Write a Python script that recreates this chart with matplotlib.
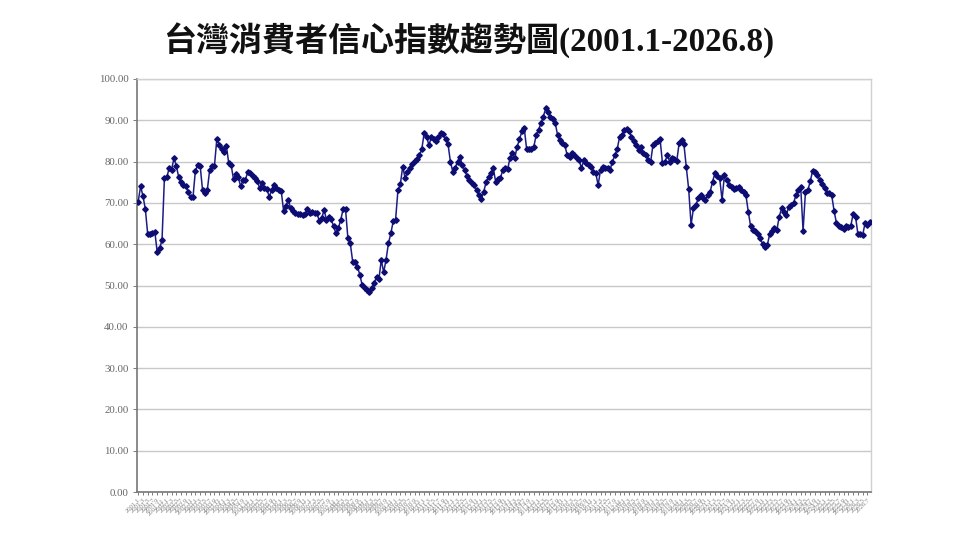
import matplotlib
matplotlib.use("Agg")
import matplotlib.pyplot as plt
import numpy as np

# Monthly Taiwan consumer confidence index, 2001.1 - 2026.8
cci_2001_2004 = [70.3, 74.0, 71.7, 68.5, 62.4, 62.4, 62.6, 62.9, 58.0, 59.0, 61.0, 76.0,
                 76.2, 78.4, 78.0, 80.8, 79.0, 76.2, 75.0, 74.4, 74.0, 72.7, 71.4, 71.4,
                 77.8, 79.2, 79.0, 73.1, 72.3, 73.1, 78.0, 79.0, 79.0, 85.5, 84.0, 83.0,
                 82.4, 83.8, 79.6, 79.2, 75.7, 77.0, 76.2, 74.0, 75.6, 75.6, 77.6, 77.2]
cci_2005_2008 = [76.4, 76.0, 75.2, 73.5, 74.9, 73.5, 73.3, 71.5, 73.1, 74.4, 73.6, 73.1,
                 73.0, 68.1, 69.3, 70.7, 68.7, 68.1, 67.6, 67.3, 67.2, 67.1, 67.2, 68.5,
                 67.6, 67.9, 67.5, 67.5, 65.6, 66.3, 68.3, 65.9, 66.7, 66.0, 64.3, 62.6,
                 63.9, 65.9, 68.5, 68.5, 61.4, 60.2, 55.8, 55.8, 54.6, 52.6, 50.1, 49.3]
cci_2009_2012 = [48.8, 48.5, 49.3, 50.5, 52.1, 51.5, 56.2, 53.2, 56.2, 60.2, 62.6, 65.5,
                 65.9, 73.1, 74.5, 78.8, 76.0, 77.6, 78.4, 79.4, 80.2, 80.6, 81.5, 83.0,
                 86.9, 86.0, 84.0, 85.9, 85.4, 85.1, 86.0, 86.9, 86.7, 85.4, 84.3, 80.0,
                 77.6, 78.4, 80.0, 81.2, 79.2, 78.0, 76.5, 75.6, 74.7, 74.3, 73.1, 71.9]
cci_2013_2016 = [70.9, 72.7, 75.1, 76.2, 77.3, 78.4, 75.1, 75.7, 76.0, 78.0, 78.4, 78.1,
                 80.8, 82.0, 80.8, 83.6, 85.4, 87.3, 88.1, 83.0, 83.0, 83.0, 83.6, 86.4,
                 87.7, 89.3, 90.9, 92.9, 91.9, 90.9, 90.2, 89.3, 86.4, 85.2, 84.6, 84.0,
                 81.6, 81.2, 82.0, 81.6, 80.8, 80.4, 78.4, 80.4, 79.7, 79.2, 78.8, 77.6]
cci_2017_2020 = [77.2, 74.3, 78.0, 78.6, 78.4, 78.4, 78.0, 80.0, 81.5, 83.0, 86.0, 86.4,
                 87.7, 87.8, 87.3, 86.0, 85.1, 84.0, 82.7, 83.6, 82.0, 81.6, 80.4, 79.8,
                 84.0, 84.6, 85.1, 85.4, 79.6, 79.8, 81.6, 80.0, 80.8, 80.6, 80.2, 84.5,
                 85.2, 84.2, 78.6, 73.3, 64.7, 68.7, 69.5, 71.1, 71.9, 71.1, 70.7, 71.9]
cci_2021_2024 = [72.7, 75.1, 77.2, 76.4, 76.0, 70.7, 76.8, 75.6, 74.3, 73.8, 73.3, 73.5,
                 73.8, 73.1, 72.7, 71.9, 67.9, 64.3, 63.5, 63.1, 62.5, 61.4, 60.1, 59.3,
                 59.8, 62.5, 63.1, 63.9, 63.5, 66.7, 68.7, 67.9, 67.1, 69.1, 69.5, 69.9,
                 71.9, 73.1, 73.8, 63.3, 72.7, 73.1, 75.2, 77.8, 77.6, 76.8, 75.6, 74.6]
cci_2025_2026 = [73.5, 72.5, 72.3, 71.9, 68.1, 65.1, 64.4, 64.1, 63.6, 64.3, 64.1, 64.4,
                 67.3, 66.7, 62.5, 62.5, 62.2, 65.1, 64.7, 65.3]

values = (cci_2001_2004 + cci_2005_2008 + cci_2009_2012 + cci_2013_2016 +
          cci_2017_2020 + cci_2021_2024 + cci_2025_2026)

start_year, start_month = 2001, 1
labels = []
y, m = start_year, start_month
for _ in range(len(values)):
    labels.append(f"{y}.{m}")
    m += 1
    if m > 12:
        m = 1
        y += 1

yticks = [0, 10, 20, 30, 40, 50, 60, 70, 80, 90, 100]
title = "台灣消費者信心指數趨勢圖(2001.1-2026.8)"

fig = plt.figure(figsize=(9.6, 5.39), dpi=100)
ax = fig.add_axes([137 / 960, 1 - 492 / 539, (871 - 137) / 960, (492 - 79) / 539])

x = np.arange(len(values))
ax.plot(x, values, color="#1c1c86", linewidth=1.1, marker="D", markersize=2.8,
        markerfacecolor="#0c0c72", markeredgecolor="#0c0c72", zorder=3)

ax.set_xlim(-0.5, len(values) - 0.5)
ax.set_ylim(0, 100)
ax.set_yticks(yticks)
ax.set_yticklabels([f"{v:.2f}" for v in yticks], fontsize=7.8, color="#666666",
                   family="Liberation Serif")
ax.grid(axis="y", color="#c8c8c8", linewidth=1.0, zorder=0)
ax.set_axisbelow(True)

step = 2
ax.set_xticks(x[::step])
ax.set_xticklabels(labels[::step], rotation=45, ha="right", rotation_mode="anchor",
                   fontsize=4.8, color="#858585", family="Liberation Serif")
ax.tick_params(axis="x", length=2, width=0.6, color="#666666", pad=2)
ax.tick_params(axis="y", length=3, width=0.6, color="#666666", pad=3)

for side in ["left", "bottom"]:
    ax.spines[side].set_color("#777777")
    ax.spines[side].set_linewidth(1.2)
for side in ["top", "right"]:
    ax.spines[side].set_color("#d0d0d0")
    ax.spines[side].set_linewidth(1.0)

fig.text(0.488, 1 - 40 / 539, title, ha="center", va="center", fontsize=23.8,
         fontweight="bold", family=["Liberation Serif", "Noto Sans CJK TC"], color="#111111")

fig.savefig("out.png", dpi=100)
